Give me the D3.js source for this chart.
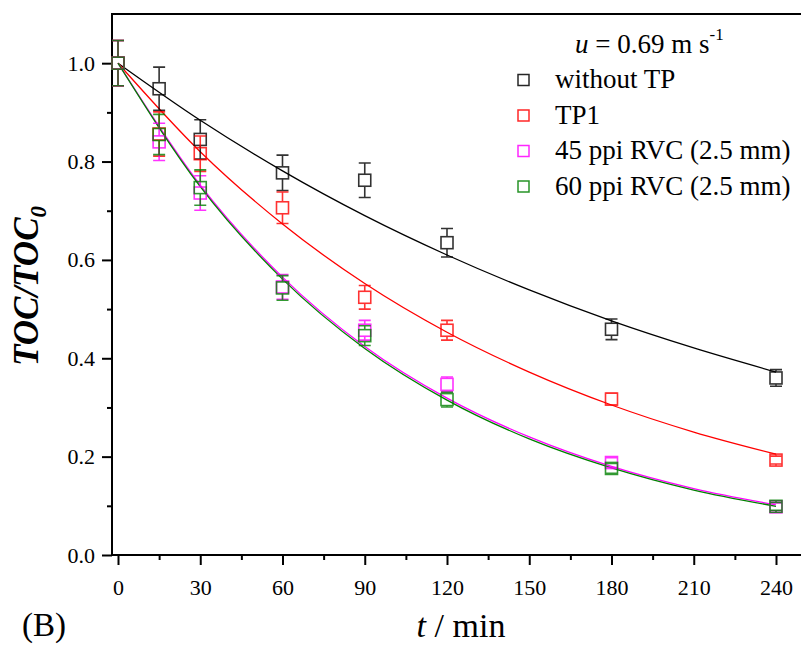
<!DOCTYPE html>
<html>
<head>
<meta charset="utf-8">
<script src="https://cdn.jsdelivr.net/npm/d3@7"></script>
<style>
  body { margin: 0; background: #ffffff; }
  svg text { font-family: "Liberation Serif", "Times New Roman", serif; fill: #000; }
</style>
</head>
<body>
<div id="chart"></div>
<script>
// TOC/TOC0 vs time, four configurations, with first-order fit curves

const times = [0, 15, 30, 60, 90, 120, 180, 240];

const noTP     = [1.000, 0.948, 0.845, 0.777, 0.762, 0.635, 0.459, 0.360];
const noTPErr  = [0.046, 0.044, 0.040, 0.036, 0.035, 0.029, 0.021, 0.017];
const tp1      = [1.000, 0.856, 0.816, 0.706, 0.524, 0.457, 0.317, 0.193];
const tp1Err   = [0.046, 0.045, 0.036, 0.032, 0.024, 0.020, 0.012, 0.008];
const rvc45    = [1.000, 0.840, 0.736, 0.545, 0.457, 0.347, 0.188, 0.098];
const rvc45Err = [0.046, 0.038, 0.035, 0.025, 0.020, 0.015, 0.010, 0.008];
const rvc60    = [1.000, 0.855, 0.747, 0.543, 0.446, 0.316, 0.176, 0.099];
const rvc60Err = [0.046, 0.041, 0.036, 0.025, 0.020, 0.015, 0.010, 0.008];

// fitted curves
const fitTimes = [0, 30, 60, 90, 120, 150, 180, 210, 240];
const noTPFit  = [1, 0.884, 0.781, 0.690, 0.610, 0.539, 0.476, 0.421, 0.372];
const tp1Fit   = [1, 0.820, 0.673, 0.552, 0.453, 0.372, 0.305, 0.250, 0.205];
const rvc45Fit = [1, 0.752, 0.565, 0.424, 0.319, 0.240, 0.180, 0.135, 0.102];
const rvc60Fit = [1, 0.749, 0.561, 0.420, 0.315, 0.236, 0.177, 0.132, 0.099];

const seriesNames = ["without TP", "TP1", "45 ppi RVC (2.5 mm)", "60 ppi RVC (2.5 mm)"];
const seriesColors = ["#000000", "#ff0000", "#ff00ff", "#008000"];

const xTicks = [0, 30, 60, 90, 120, 150, 180, 210, 240];
const xMinor = [15, 45, 75, 105, 135, 165, 195, 225];
const yTicks = [0.0, 0.2, 0.4, 0.6, 0.8, 1.0];
const yMinor = [0.1, 0.3, 0.5, 0.7, 0.9];

const series = [
  {name: seriesNames[0], color: seriesColors[0], y: noTP, err: noTPErr, fit: noTPFit},
  {name: seriesNames[1], color: seriesColors[1], y: tp1, err: tp1Err, fit: tp1Fit},
  {name: seriesNames[2], color: seriesColors[2], y: rvc45, err: rvc45Err, fit: rvc45Fit},
  {name: seriesNames[3], color: seriesColors[3], y: rvc60, err: rvc60Err, fit: rvc60Fit}
];

const width = 801, height = 645;

const svg = d3.select("#chart").append("svg")
    .attr("width", width)
    .attr("height", height);

const x = d3.scaleLinear().domain([0, 240]).range([118, 776]);
const y = d3.scaleLinear().domain([0, 1.1]).range([555, 14]);

const left = 112, right = 815;

// axes
const xAxis = svg.append("g").attr("transform", "translate(0,555)");
xAxis.call(d3.axisBottom(x).tickValues(xTicks).tickSize(10).tickPadding(14).tickFormat(d3.format("d")));
xAxis.append("g").call(d3.axisBottom(x).tickValues(xMinor).tickSize(5).tickFormat(""));
xAxis.selectAll(".domain").remove();
xAxis.append("line").attr("x1", left).attr("x2", right).attr("stroke", "#000").attr("stroke-width", 2);

const yAxis = svg.append("g").attr("transform", `translate(${left},0)`);
yAxis.call(d3.axisLeft(y).tickValues(yTicks).tickSize(10).tickPadding(7).tickFormat(d3.format(".1f")));
yAxis.append("g").call(d3.axisLeft(y).tickValues(yMinor).tickSize(5).tickFormat(""));
yAxis.selectAll(".domain").remove();
yAxis.append("line").attr("y1", y(1.1)).attr("y2", y(0) + 1).attr("stroke", "#000").attr("stroke-width", 2);

svg.selectAll(".tick line").attr("stroke-width", 2);
svg.selectAll(".tick text").style("font-size", "22px").style("font-family", "Liberation Serif");

// top border
svg.append("line").attr("x1", left - 1).attr("x2", right).attr("y1", y(1.1)).attr("y2", y(1.1))
    .attr("stroke", "#000").attr("stroke-width", 2);

// fit curves
const line = d3.line()
    .x((d, i) => x(fitTimes[i]))
    .y(d => y(d))
    .curve(d3.curveMonotoneX);

series.forEach(s => {
  svg.append("path")
      .datum(s.fit)
      .attr("d", line)
      .attr("fill", "none")
      .attr("stroke", s.color)
      .attr("stroke-width", 1.3);
});

// error bars and squares
const cap = 6, half = 6;
series.forEach(s => {
  const g = svg.append("g").attr("stroke", s.color).attr("stroke-width", 1.6)
      .attr("fill", "none").attr("opacity", 0.8);
  const pts = times.map((t, i) => ({t: t, v: s.y[i], e: s.err[i]}));
  g.selectAll(".eb").data(pts).enter().append("path")
      .attr("d", d => {
        const cx = x(d.t), y1 = y(d.v + d.e), y2 = y(d.v - d.e);
        return `M${cx - cap},${y1}H${cx + cap}M${cx},${y1}V${y(d.v) - half}` +
               `M${cx},${y(d.v) + half}V${y2}M${cx - cap},${y2}H${cx + cap}`;
      });
  g.selectAll(".sq").data(pts).enter().append("rect")
      .attr("x", d => x(d.t) - half)
      .attr("y", d => y(d.v) - half)
      .attr("width", half * 2)
      .attr("height", half * 2);
});

// legend
const legend = svg.append("g");
const lt = legend.append("text").attr("x", 575).attr("y", 53).style("font-size", "27px");
lt.append("tspan").style("font-style", "italic").text("u");
lt.append("tspan").text(" = 0.69 m s");
lt.append("tspan").attr("dy", -13).style("font-size", "17px").text("-1");

series.forEach((s, i) => {
  const yy = 80 + i * 35.5;
  legend.append("rect")
      .attr("x", 518).attr("y", yy - 5.5)
      .attr("width", 11).attr("height", 11)
      .attr("fill", "none").attr("stroke", s.color).attr("stroke-width", 1.5).attr("opacity", 0.85);
  legend.append("text")
      .attr("x", 555).attr("y", yy + 8)
      .style("font-size", "27px")
      .text(s.name);
});

// axis titles
const yt = svg.append("text")
    .attr("transform", "translate(38,286) rotate(-90)")
    .attr("text-anchor", "middle")
    .style("font-size", "35px").style("font-weight", "bold").style("font-style", "italic");
yt.append("tspan").text("TOC/TOC");
yt.append("tspan").attr("dy", 8).style("font-size", "23px").text("0");

const xt = svg.append("text")
    .attr("x", 461).attr("y", 637)
    .attr("text-anchor", "middle")
    .style("font-size", "34px");
xt.append("tspan").style("font-style", "italic").text("t");
xt.append("tspan").text(" / min");

svg.append("text").attr("x", 22).attr("y", 636).style("font-size", "33px").text("(B)");
</script>
</body>
</html>
